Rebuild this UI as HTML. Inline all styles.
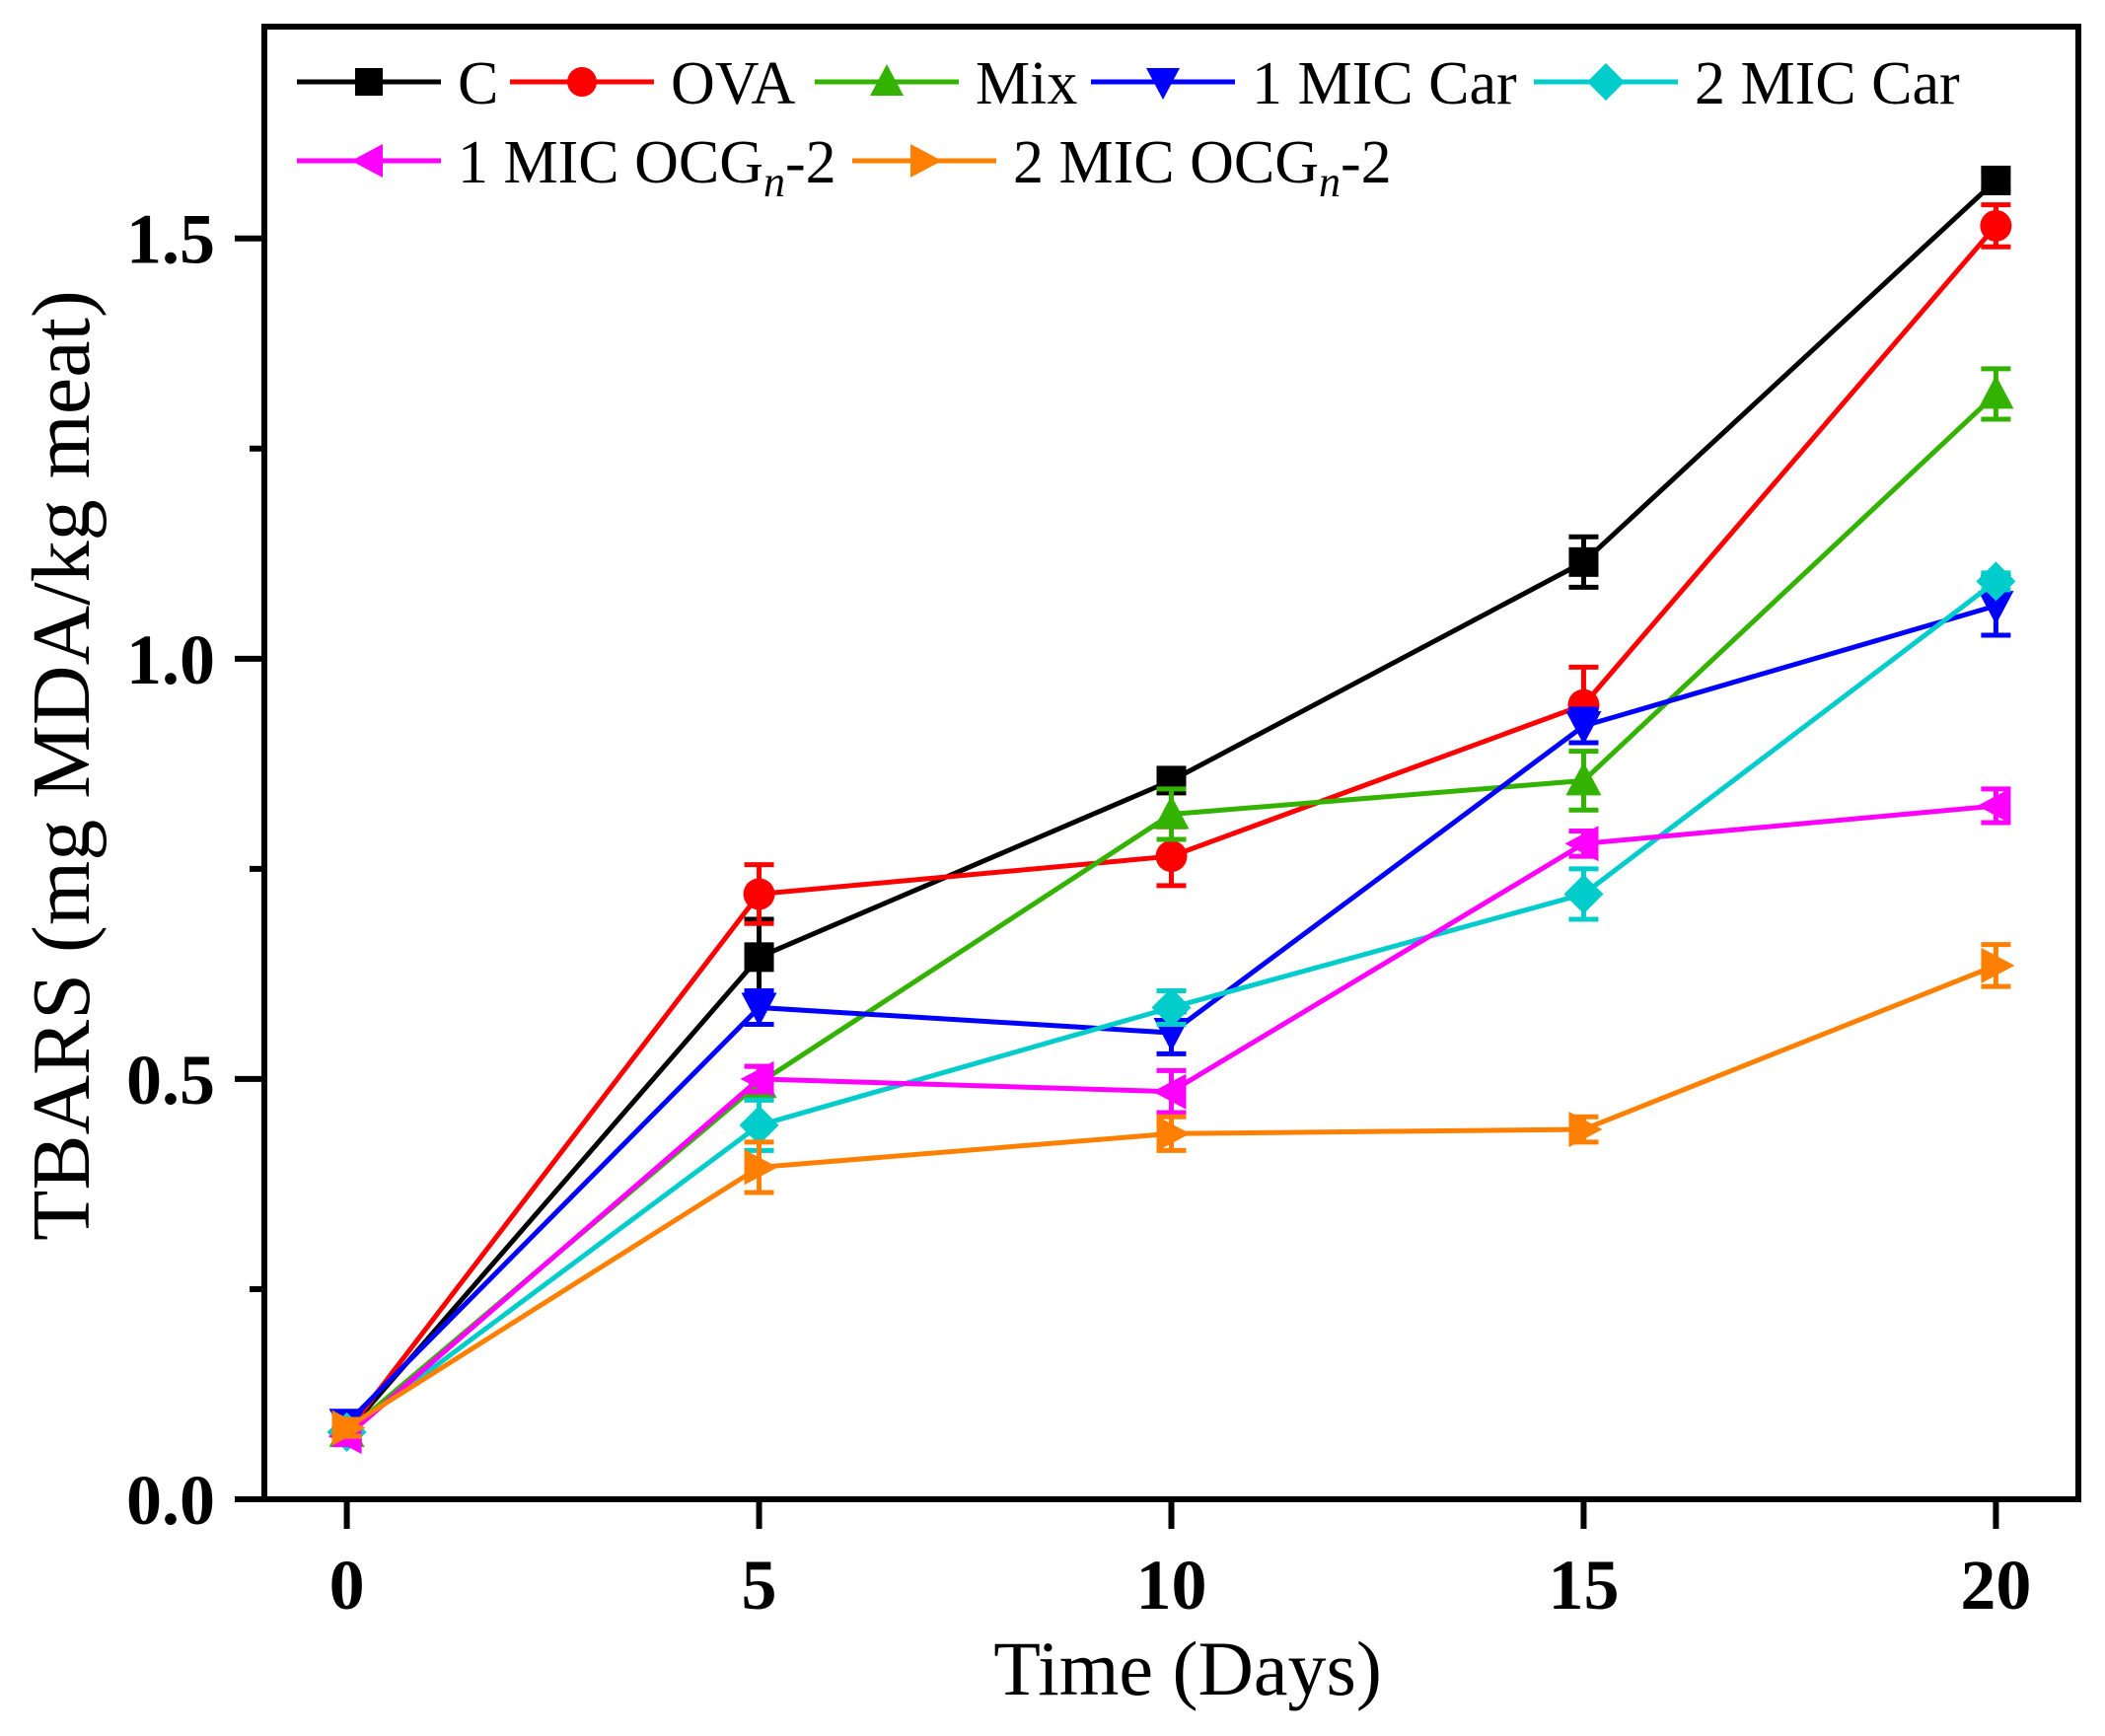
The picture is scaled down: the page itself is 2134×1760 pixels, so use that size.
<!DOCTYPE html>
<html><head><meta charset="utf-8"><style>
html,body{margin:0;padding:0;background:#fff;}
svg{display:block;font-family:"Liberation Serif",serif;}
</style></head><body>
<svg id="chart" width="2134" height="1760" viewBox="0 0 2134 1760" xmlns="http://www.w3.org/2000/svg">
<g id="axes"></g>
<g id="series"></g>
<g id="legend"></g>
<text x="1204" y="1718" font-size="78" text-anchor="middle">Time (Days)</text>
<text transform="translate(90,776) rotate(-90)" font-size="84" text-anchor="middle">TBARS (mg MDA/kg meat)</text>
</svg>
<script>
const days = [0, 5, 10, 15, 20];
const seriesNames = ["C", "OVA", "Mix", "1 MIC Car", "2 MIC Car", "1 MIC OCGn-2", "2 MIC OCGn-2"];
const valsC    = [0.08, 0.645, 0.855, 1.115, 1.569];
const valsOVA  = [0.08, 0.72, 0.765, 0.945, 1.515];
const valsMix  = [0.08, 0.495, 0.815, 0.855, 1.315];
const vals1Car = [0.09, 0.585, 0.555, 0.92, 1.063];
const vals2Car = [0.08, 0.445, 0.585, 0.72, 1.092];
const vals1OCG = [0.075, 0.50, 0.485, 0.78, 0.825];
const vals2OCG = [0.085, 0.395, 0.435, 0.44, 0.635];
const errC    = [0.01, 0.045, 0.01, 0.03, 0.01];
const errOVA  = [0.01, 0.035, 0.035, 0.045, 0.025];
const errMix  = [0.01, 0.02, 0.03, 0.035, 0.03];
const err1Car = [0.01, 0.02, 0.025, 0.02, 0.035];
const err2Car = [0.01, 0.03, 0.02, 0.03, 0.01];
const err1OCG = [0.01, 0.015, 0.025, 0.015, 0.02];
const err2OCG = [0.01, 0.03, 0.02, 0.015, 0.025];
const xTicks = [0, 5, 10, 15, 20];
const yTicks = [0.0, 0.5, 1.0, 1.5];
const yMinor = [0.25, 0.75, 1.25];

const L=268,R=2107,T=27,B=1520;
const xMin=-1,xMax=21,yMin=0,yMax=1.752;
const X=v=>L+(v-xMin)/(xMax-xMin)*(R-L);
const Y=v=>B-(v-yMin)/(yMax-yMin)*(B-T);
const NS="http://www.w3.org/2000/svg";
function mk(tag,attrs,parent){const e=document.createElementNS(NS,tag);for(const k in attrs)e.setAttribute(k,attrs[k]);parent.appendChild(e);return e;}

const axes=document.getElementById('axes');
const frame=mk('rect',{x:L,y:T,width:R-L,height:B-T,fill:'none',stroke:'#000','stroke-width':6},axes);


xTicks.forEach(t=>{
  const ln=mk('line',{x1:X(t),x2:X(t),y1:B,y2:B+30,stroke:'#000','stroke-width':6},axes);
  
  
  const tx=mk('text',{x:X(t),y:1631,'font-size':72,'font-weight':'bold','text-anchor':'middle'},axes);
  tx.textContent=String(t);
  
  
});
yTicks.forEach(t=>{
  const ln=mk('line',{x1:L-30,x2:L,y1:Y(t),y2:Y(t),stroke:'#000','stroke-width':6},axes);
  
  
  const tx=mk('text',{x:218,y:Y(t)+25,'font-size':72,'font-weight':'bold','text-anchor':'end'},axes);
  tx.textContent=t.toFixed(1);
  
  
});
yMinor.forEach(t=>{
  const ln=mk('line',{x1:L-15,x2:L,y1:Y(t),y2:Y(t),stroke:'#000','stroke-width':6},axes);
  
  
});

function marker(type,cx,cy,color,parent,s){
  s=s||15;
  let e;
  if(type==='square') e=mk('rect',{x:cx-s,y:cy-s,width:2*s,height:2*s,fill:color},parent);
  else if(type==='circle') e=mk('circle',{cx:cx,cy:cy,r:s+1,fill:color},parent);
  else if(type==='up') e=mk('polygon',{points:`${cx},${cy-s-4} ${cx+s+3},${cy+s} ${cx-s-3},${cy+s}`,fill:color},parent);
  else if(type==='down') e=mk('polygon',{points:`${cx},${cy+s+4} ${cx+s+3},${cy-s} ${cx-s-3},${cy-s}`,fill:color},parent);
  else if(type==='diamond') e=mk('polygon',{points:`${cx},${cy-s-5} ${cx+s+5},${cy} ${cx},${cy+s+5} ${cx-s-5},${cy}`,fill:color},parent);
  else if(type==='left') e=mk('polygon',{points:`${cx-s-4},${cy} ${cx+s},${cy-s-3} ${cx+s},${cy+s+3}`,fill:color},parent);
  else e=mk('polygon',{points:`${cx+s+4},${cy} ${cx-s},${cy-s-3} ${cx-s},${cy+s+3}`,fill:color},parent);
  return e;
}

const seriesVals=[valsC,valsOVA,valsMix,vals1Car,vals2Car,vals1OCG,vals2OCG];
const seriesErr=[errC,errOVA,errMix,err1Car,err2Car,err1OCG,err2OCG];
const colors=['#000000','#ff0000','#33b300','#0000ff','#00cccc','#ff00ff','#ff8000'];
const shapes=['square','circle','up','down','diamond','left','right'];
const sg=document.getElementById('series');
seriesVals.forEach((vals,i)=>{
  const g=mk('g',{},sg);
  
  
  const pl=mk('polyline',{points:vals.map((v,j)=>X(days[j])+','+Y(v)).join(' '),fill:'none',stroke:colors[i],'stroke-width':5},g);
  
  
  vals.forEach((v,j)=>{
    const e=seriesErr[i][j],cx=X(days[j]);
    const eb=mk('path',{d:`M${cx},${Y(v+e)}V${Y(v-e)}M${cx-15},${Y(v+e)}H${cx+15}M${cx-15},${Y(v-e)}H${cx+15}`,stroke:colors[i],'stroke-width':5,fill:'none'},g);
    
    
    const m=marker(shapes[i],cx,Y(v),colors[i],g);
    
    
  });
});

const lg=document.getElementById('legend');
const legendPos=[[301,83],[517,83],[826,83],[1106,83],[1555,83],[301,163],[864,163]];
legendPos.forEach((p,i)=>{
  const g=mk('g',{},lg);
  
  
  const ln=mk('line',{x1:p[0],x2:p[0]+146,y1:p[1],y2:p[1],stroke:colors[i],'stroke-width':5},g);
  
  
  const m=marker(shapes[i],p[0]+73,p[1],colors[i],g,14);
  
  
  const t=mk('text',{x:p[0]+163,y:p[1]+22,'font-size':62},g);
  
  
  const nm=seriesNames[i];
  if(nm.indexOf('OCGn')>=0){
    const parts=nm.split('OCGn');
    const a=mk('tspan',{},t);a.textContent=parts[0]+'OCG';
    const b=mk('tspan',{'font-style':'italic','font-size':44,dy:14},t);b.textContent='n';
    const c=mk('tspan',{dy:-14},t);c.textContent=parts[1];
  } else t.textContent=nm;
});
</script>
</body></html>
